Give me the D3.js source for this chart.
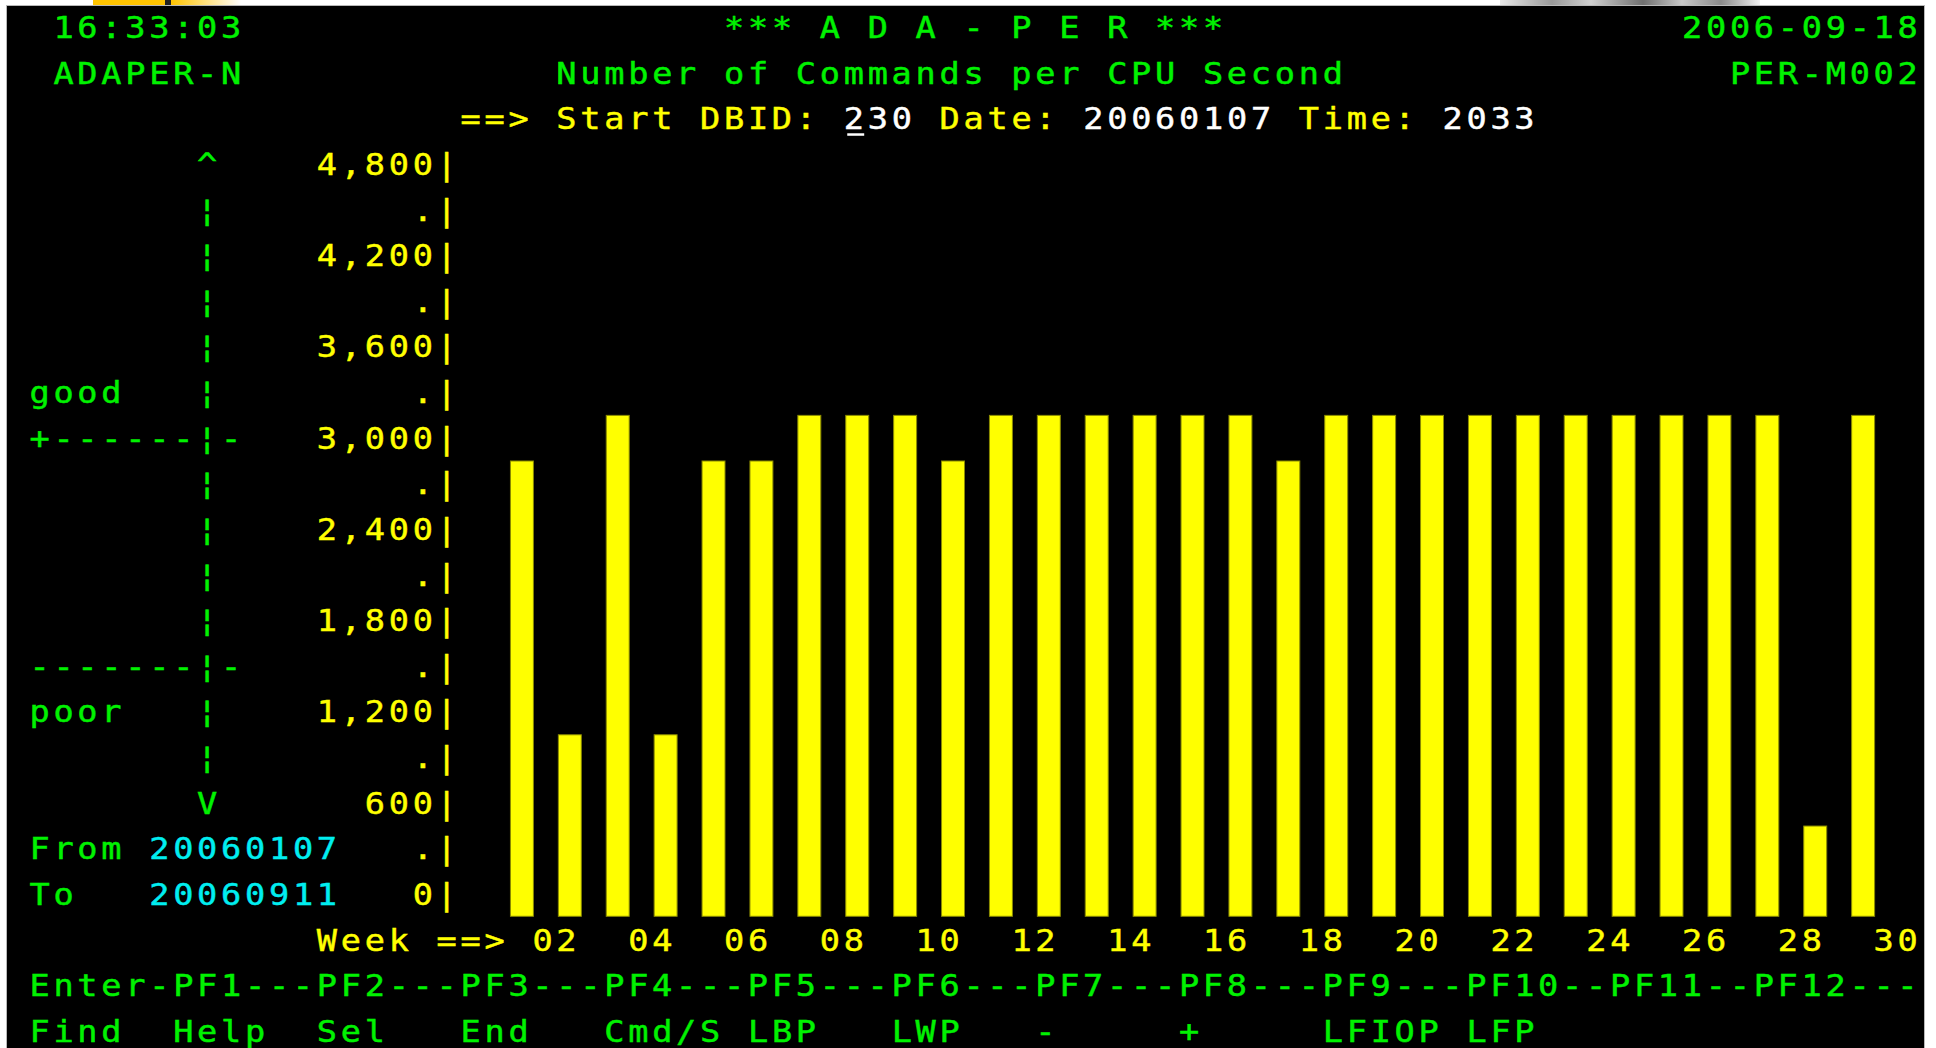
<!DOCTYPE html>
<html>
<head>
<meta charset="utf-8">
<title>ADA-PER Number of Commands per CPU Second</title>
<script src="https://cdn.jsdelivr.net/npm/d3@7"></script>
<style>
  html, body { margin: 0; padding: 0; background: #ffffff; overflow: hidden; }
  svg text { font-family: "DejaVu Sans Mono", "Liberation Mono", monospace; font-size: 30px; white-space: pre; }
</style>
</head>
<body>
<svg id="screen" width="1936" height="1048"></svg>
<script>
// ---- data -------------------------------------------------------------
const weeks = [1, 2, 3, 4, 5, 6, 7, 8, 9, 10, 11, 12, 13, 14, 15,
               16, 17, 18, 19, 20, 21, 22, 23, 24, 25, 26, 27, 28, 29];
const commandsPerCpuSecond = [3000, 1200, 3300, 1200, 3000, 3000, 3300, 3300, 3300, 3000,
                              3300, 3300, 3300, 3300, 3300, 3300, 3000, 3300, 3300, 3300,
                              3300, 3300, 3300, 3300, 3300, 3300, 3300, 600, 3300];
const weekTicks = [2, 4, 6, 8, 10, 12, 14, 16, 18, 20, 22, 24, 26, 28, 30];
const yTickValues = [0, 600, 1200, 1800, 2400, 3000, 3600, 4200, 4800];
const yDotValues = [300, 900, 1500, 2100, 2700, 3300, 3900, 4500];
const pfKeys = "Enter-PF1---PF2---PF3---PF4---PF5---PF6---PF7---PF8---PF9---PF10--PF11--PF12---";
const pfLabels = [["Find", 1], ["Help", 7], ["Sel", 13], ["End", 19], ["Cmd/S", 25], ["LBP", 31],
                  ["LWP", 37], ["-", 43], ["+", 49], ["LFIOP", 55], ["LFP", 61]];

// ---- terminal grid (80 columns, character rows) ------------------------
const X0 = 7, CW = 23.95, TOP0 = 4.2, RH = 45.63;
const SX = 1.12;                       // horizontal stretch of the terminal glyphs
const ADV = 18.06;                     // natural advance of the mono font at 30px
const PAD = -1.5;                      // glyph offset inside a cell
const GREEN = "#00f200", YELLOW = "#ffff00", WHITE = "#ffffff", CYAN = "#00eef0";
const colX = c => X0 + c * CW;
const rowTop = r => TOP0 + (r - 1) * RH;          // rows are 1-based
const rowCenter = r => rowTop(r) + RH / 2;

const svg = d3.select("#screen");

// window frame: white page, thin grey rim, black terminal face
const defs = svg.append("defs");
const g1 = defs.append("linearGradient").attr("id", "tabFade");
g1.append("stop").attr("offset", "0%").attr("stop-color", "#ffc400");
g1.append("stop").attr("offset", "100%").attr("stop-color", "#ffffff");
const g2 = defs.append("linearGradient").attr("id", "thumb");
[["0%", "#e8e8e8"], ["20%", "#9a9a9a"], ["35%", "#d0d0d0"], ["55%", "#707070"],
 ["70%", "#c8c8c8"], ["85%", "#8a8a8a"], ["100%", "#f0f0f0"]].forEach(([o, c]) =>
  g2.append("stop").attr("offset", o).attr("stop-color", c));

svg.append("rect").attr("x", 93).attr("y", 0).attr("width", 72).attr("height", 5).attr("fill", "#ffc400");
svg.append("rect").attr("x", 165).attr("y", 0).attr("width", 6).attr("height", 5).attr("fill", "#222");
svg.append("rect").attr("x", 171).attr("y", 0).attr("width", 70).attr("height", 5).attr("fill", "url(#tabFade)");
svg.append("rect").attr("x", 1500).attr("y", 0).attr("width", 260).attr("height", 5).attr("fill", "url(#thumb)");

svg.append("rect").attr("x", 6.5).attr("y", 5.5).attr("width", 1918).attr("height", 1050)
  .attr("fill", "#000").attr("stroke", "#b8b8b8").attr("stroke-width", 1);

// ---- text helpers ------------------------------------------------------
const layer = svg.append("g");
function glyphs(px, baseline, str, color) {
  return layer.append("text")
    .attr("transform", `translate(${px + PAD},${baseline}) scale(${SX},1)`)
    .attr("letter-spacing", CW / SX - ADV)
    .attr("fill", color)
    .attr("stroke", color)
    .attr("stroke-width", 0.45)
    .text(str);
}
const put = (row, col, str, color) => glyphs(colX(col), rowCenter(row) + 11, str, color);

// header
put(1, 2, "16:33:03", GREEN);
put(1, 30, "*** A D A - P E R ***", GREEN);
put(1, 70, "2006-09-18", GREEN);
put(2, 2, "ADAPER-N", GREEN);
put(2, 23, "Number of Commands per CPU Second", GREEN);
put(2, 72, "PER-M002", GREEN);
put(3, 19, "==>", YELLOW);
put(3, 23, "Start DBID:", YELLOW);
put(3, 35, "230", WHITE);
put(3, 39, "Date:", YELLOW);
put(3, 45, "20060107", WHITE);
put(3, 54, "Time:", YELLOW);
put(3, 60, "2033", WHITE);
// cursor under the first DBID digit
layer.append("rect").attr("x", colX(35) + 2).attr("y", rowCenter(3) + 15)
  .attr("width", CW - 7).attr("height", 2.5).attr("fill", WHITE);

// ---- scales -----------------------------------------------------------
// each character row of the plot is one 300-unit band; row 20 holds 0..300
const y = d3.scaleLinear().domain([0, 5100]).range([rowTop(21), rowTop(4)]);
const x = d3.scaleLinear().domain([1, 30]).range([colX(21), colX(79)]);

// rating gauge on the left
put(4, 8, "^", GREEN);
for (let r = 5; r <= 17; r++) put(r, 8, "\u00a6", GREEN);
put(18, 8, "V", GREEN);
put(9, 1, "good", GREEN);
put(10, 1, "+------", GREEN);
put(10, 9, "-", GREEN);
put(15, 1, "-------", GREEN);
put(15, 9, "-", GREEN);
put(16, 1, "poor", GREEN);
put(19, 1, "From", GREEN);
put(19, 6, "20060107", CYAN);
put(20, 1, "To", GREEN);
put(20, 6, "20060911", CYAN);

// ---- y axis: labelled rows, dotted rows and the axis rule --------------
const fmt = d3.format(",");
const rowBaseline = v => y(v) - RH / 2 + 11;
yTickValues.forEach(v => {
  const s = fmt(v);
  glyphs(colX(18 - s.length), rowBaseline(v), s, YELLOW);
});
yDotValues.forEach(v => glyphs(colX(17), rowBaseline(v), ".", YELLOW));
yTickValues.concat(yDotValues).forEach(v => glyphs(colX(18), rowBaseline(v), "|", YELLOW));

// ---- bars --------------------------------------------------------------
svg.append("g").selectAll("rect")
  .data(weeks.map((w, i) => ({ week: w, value: commandsPerCpuSecond[i] })))
  .join("rect")
  .attr("x", d => x(d.week) + 0.5)
  .attr("y", d => y(d.value) + 0.5)
  .attr("width", CW - 1)
  .attr("height", d => y(0) - y(d.value) - 1)
  .attr("fill", YELLOW)
  .attr("stroke", "#8a8a00")
  .attr("stroke-width", 1);

// ---- x axis ------------------------------------------------------------
put(21, 13, "Week", YELLOW);
put(21, 18, "==>", YELLOW);
const wfmt = d3.format("02");
weekTicks.forEach(w => glyphs(x(w) - CW, rowCenter(21) + 11, wfmt(w), YELLOW));

// ---- PF key lines ------------------------------------------------------
put(22, 1, pfKeys, GREEN);
pfLabels.forEach(([s, c]) => put(23, c, s, GREEN));
</script>
</body>
</html>
